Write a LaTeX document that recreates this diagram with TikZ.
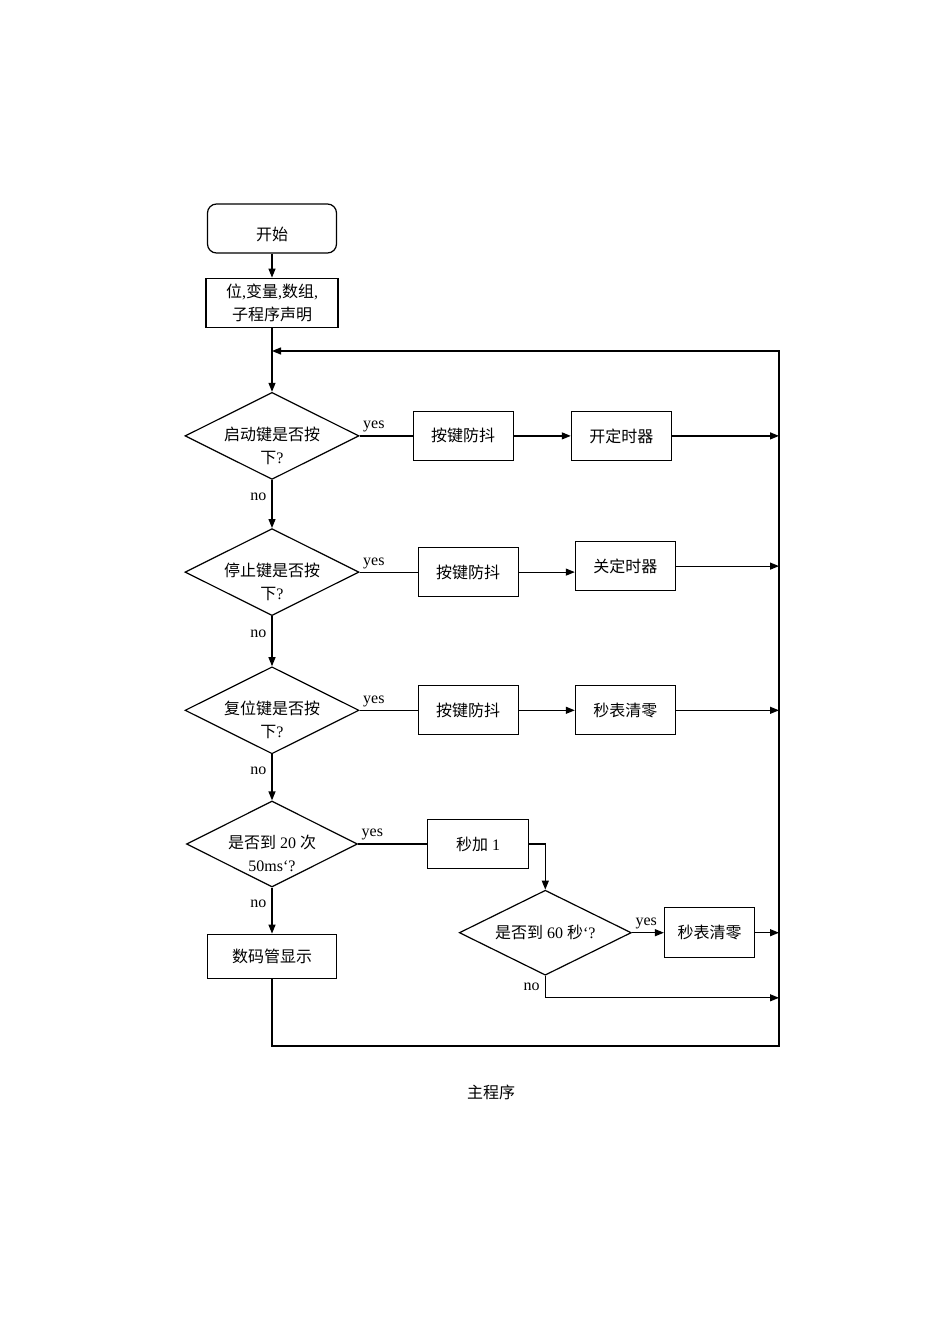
\documentclass[tikz,border=0pt]{standalone}
\usepackage{fontspec}
\setmainfont{Liberation Serif}
\newfontfamily\cjk{Noto Sans CJK SC}
\newcommand{\zh}[1]{{\cjk #1}}
\usetikzlibrary{arrows.meta,positioning,shapes.geometric}

\begin{document}
\begin{tikzpicture}[>={Triangle[length=9pt,width=7pt]}, line width=1.2pt,
  font=\fontsize{16pt}{23pt}\selectfont]

\tikzstyle{block}=[
  rectangle,
  draw,
  minimum width=100pt,
  minimum height=49pt,
  align=center,
  inner sep=2pt
]
\tikzstyle{startstop}=[block, rounded corners=9pt, minimum width=129pt,
  text height=25pt, text depth=2pt]
\tikzstyle{decision}=[
  diamond,
  draw,
  aspect=2,
  inner xsep=0pt,
  inner ysep=-11pt,
  minimum width=171pt,
  minimum height=86pt,
  align=center
]
\tikzstyle{twoline}=[text height=58pt, text depth=3pt]
\tikzstyle{yeslabel}=[above right, inner sep=3pt, pos=0]
\tikzstyle{nolabel}=[left, inner sep=5pt, pos=0.35]

\useasboundingbox (0pt,0pt) rectangle (950pt,-1344pt);

\node[startstop] (start) at (272pt,-228.5pt) {\zh{开始}};

\node[block, minimum width=132pt, below=24pt of start] (decl)
{\zh{位},\zh{变量},\zh{数组},\\\zh{子程序声明}};

\node[decision, twoline, below=64pt of decl] (startkey)
{\zh{启动键是否按}\\\zh{下}?};
\node[decision, twoline, below=48pt of startkey] (stopkey)
{\zh{停止键是否按}\\\zh{下}?};
\node[decision, twoline, below=50pt of stopkey] (resetkey)
{\zh{复位键是否按}\\\zh{下}?};
\node[decision, twoline, below=46pt of resetkey] (count)
{\zh{是否到} 20 \zh{次}\\50ms`?};

\node[block, minimum width=129pt, minimum height=44pt, below=46pt of count] (disp)
{\zh{数码管显示}};

% yes branches
\node[block, right=53pt of startkey] (deb1) {\zh{按键防抖}};
\node[block, right=57pt of deb1] (timeron) {\zh{开定时器}};

\node[block, right=58pt of stopkey] (deb2) {\zh{按键防抖}};
\node[block, right=56pt of deb2, yshift=6pt] (timeroff) {\zh{关定时器}};

\node[block, right=58pt of resetkey] (deb3) {\zh{按键防抖}};
\node[block, right=56pt of deb3] (clear1) {\zh{秒表清零}};

\node[block, minimum width=101pt, right=69pt of count] (secadd) {\zh{秒加} 1};
\node[decision, minimum width=172pt, minimum height=85pt,
  below=20.5pt of secadd.south east, xshift=16pt] (minute)
{\zh{是否到} 60 \zh{秒}`?};
\node[block, minimum width=90pt, minimum height=50pt, right=32pt of minute] (clear2)
{\zh{秒表清零}};

\coordinate (railtop) at (779pt,-351pt);
\coordinate (railbot) at (779pt,-1046pt);
\coordinate[below=22pt of minute.south] (minno);

% main column
\draw[->] (start) -- (decl);
\draw[->] (decl) -- (startkey);
\draw[->] (startkey) -- node[nolabel]{no} (stopkey);
\draw[->] (stopkey) -- node[nolabel]{no} (resetkey);
\draw[->] (resetkey) -- node[nolabel]{no} (count);
\draw[->] (count) -- node[nolabel]{no} (disp);

% rows
\draw (startkey.east) -- node[yeslabel]{yes} (deb1.west);
\draw[->] (deb1) -- (timeron);
\draw[->] (timeron.east) -- (timeron.east -| railtop);

\draw (stopkey.east) -- node[yeslabel]{yes} (deb2.west);
\draw[->] (deb2.east) -- (deb2.east -| timeroff.west);
\draw[->] (timeroff.east) -- (timeroff.east -| railtop);

\draw (resetkey.east) -- node[yeslabel]{yes} (deb3.west);
\draw[->] (deb3) -- (clear1);
\draw[->] (clear1.east) -- (clear1.east -| railtop);

\draw (count.east) -- node[yeslabel]{yes} (count.east -| secadd.west);
\draw[->] (secadd.east) -| (minute.north);
\draw[->] (minute.east) -- node[yeslabel]{yes} (clear2.west);
\draw[->] (clear2.east) -- (clear2.east -| railtop);
\draw[->] (minute.south) -- node[left, inner sep=5pt]{no} (minno) -- (minno -| railtop);

% loop back
\draw[->] (disp.south) |- (railbot) -- (railtop) -- (railtop -| decl.south);

\node (title) at (491pt,-1092pt) {\zh{主程序}};

\end{tikzpicture}
\end{document}
